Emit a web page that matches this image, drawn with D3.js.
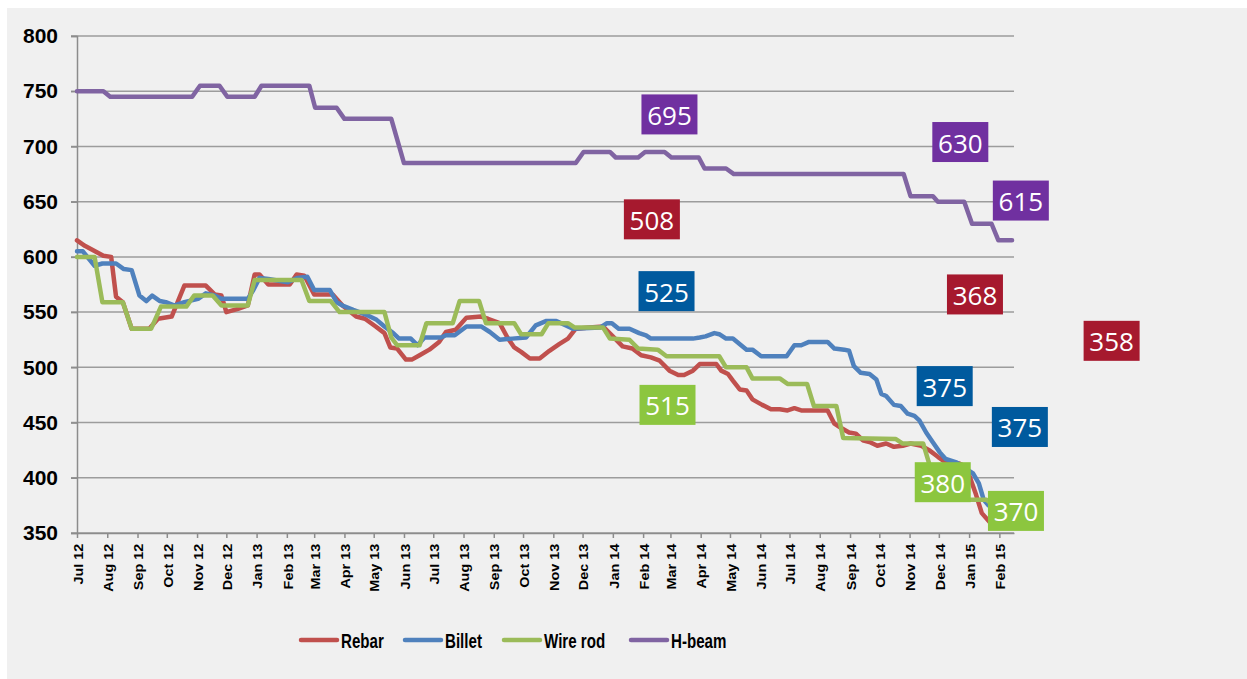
<!DOCTYPE html>
<html>
<head>
<meta charset="utf-8">
<script src="https://cdn.jsdelivr.net/npm/d3@7"></script>
<style>
  body { margin: 0; background: #fff; }
  svg { display: block; }
</style>
</head>
<body>
<svg class="line-chart"></svg>
<script>
// weekly steel prices as [date, price] break points
const rebar = [
  ["2012-07-01",615],["2012-07-09",610],["2012-07-28",601],["2012-08-05",600],["2012-08-10",564],["2012-08-17",559],
  ["2012-08-26",535],["2012-09-13",535],["2012-09-22",544],["2012-10-06",546],["2012-10-19",574],["2012-11-10",574],
  ["2012-11-19",566],["2012-11-26",565],["2012-12-01",550],["2012-12-13",553],["2012-12-23",556],["2012-12-30",584],
  ["2013-01-04",584],["2013-01-13",575],["2013-02-04",575],["2013-02-11",584],["2013-02-19",583],["2013-03-01",566],
  ["2013-03-20",566],["2013-03-30",556],["2013-04-13",546],["2013-04-22",544],["2013-05-03",537],["2013-05-12",531],
  ["2013-05-18",518],["2013-05-25",517],["2013-06-03",507],["2013-06-09",507],["2013-06-17",511],["2013-06-27",516],
  ["2013-07-07",523],["2013-07-14",532],["2013-07-24",534],["2013-08-04",545],["2013-08-19",546],["2013-08-26",544],
  ["2013-09-07",540],["2013-09-15",527],["2013-09-22",518],["2013-09-29",514],["2013-10-08",508],["2013-10-18",508],
  ["2013-10-28",515],["2013-11-07",521],["2013-11-16",526],["2013-11-24",535],["2013-12-08",536],["2013-12-22",537],
  ["2014-01-01",528],["2014-01-11",519],["2014-01-21",517],["2014-01-30",511],["2014-02-09",509],["2014-02-18",506],
  ["2014-02-28",497],["2014-03-09",493],["2014-03-15",493],["2014-03-24",497],["2014-03-31",503],["2014-04-17",503],
  ["2014-04-22",497],["2014-04-29",494],["2014-05-04",488],["2014-05-11",480],["2014-05-18",479],["2014-05-24",471],
  ["2014-06-03",466],["2014-06-12",462],["2014-06-21",462],["2014-06-29",461],["2014-07-06",463],["2014-07-13",461],
  ["2014-08-09",461],["2014-08-16",449],["2014-08-23",445],["2014-08-31",441],["2014-09-07",440],["2014-09-14",434],
  ["2014-09-22",432],["2014-09-29",429],["2014-10-08",431],["2014-10-16",428],["2014-10-25",429],["2014-11-02",431],
  ["2014-11-13",429],["2014-11-21",425],["2014-11-30",419],["2014-12-08",414],["2014-12-22",413],["2014-12-29",410],
  ["2015-01-08",385],["2015-01-14",368],["2015-01-22",360],["2015-02-14",358]
];

const billet = [
  ["2012-07-01",605],["2012-07-07",605],["2012-07-19",592],["2012-07-27",594],["2012-08-10",594],["2012-08-18",589],
  ["2012-08-26",588],["2012-09-03",565],["2012-09-10",560],["2012-09-16",565],["2012-09-24",560],["2012-09-30",559],
  ["2012-10-09",556],["2012-10-19",559],["2012-11-02",562],["2012-11-10",567],["2012-11-19",565],["2012-11-26",562],
  ["2012-12-23",562],["2012-12-28",569],["2013-01-04",581],["2013-01-13",580],["2013-02-02",577],["2013-02-12",581],
  ["2013-02-22",582],["2013-03-01",570],["2013-03-17",570],["2013-03-24",559],["2013-03-30",556],["2013-04-10",552],
  ["2013-04-25",547],["2013-05-04",543],["2013-05-12",537],["2013-05-21",531],["2013-05-27",526],["2013-06-08",526],
  ["2013-06-15",520],["2013-06-22",527],["2013-07-09",527],["2013-07-14",529],["2013-07-23",529],["2013-08-04",537],
  ["2013-08-19",537],["2013-08-28",532],["2013-09-07",525],["2013-09-20",526],["2013-10-04",527],["2013-10-14",538],
  ["2013-10-25",542],["2013-11-04",542],["2013-11-14",538],["2013-11-21",535],["2013-12-19",536],["2013-12-26",540],
  ["2013-12-31",540],["2014-01-07",535],["2014-01-18",535],["2014-01-28",531],["2014-02-04",529],["2014-02-09",526],
  ["2014-03-24",526],["2014-03-31",527],["2014-04-06",528],["2014-04-15",531],["2014-04-20",530],["2014-04-27",526],
  ["2014-05-04",526],["2014-05-18",516],["2014-05-24",516],["2014-06-02",510],["2014-06-28",510],["2014-07-06",520],
  ["2014-07-13",520],["2014-07-21",523],["2014-08-09",523],["2014-08-16",517],["2014-08-26",516],["2014-08-31",515],
  ["2014-09-05",501],["2014-09-12",495],["2014-09-21",494],["2014-09-28",489],["2014-10-03",476],["2014-10-08",474],
  ["2014-10-16",466],["2014-10-23",465],["2014-10-30",458],["2014-11-06",456],["2014-11-11",452],["2014-11-18",441],
  ["2014-11-25",432],["2014-12-02",423],["2014-12-08",417],["2014-12-19",414],["2014-12-29",408],["2015-01-05",404],
  ["2015-01-11",395],["2015-01-16",380],["2015-01-21",375],["2015-02-14",375]
];

const wireRod = [
  ["2012-07-01",600],["2012-07-19",600],["2012-07-27",559],["2012-08-17",559],["2012-08-26",535],["2012-09-15",535],
  ["2012-09-25",555],["2012-10-21",555],["2012-10-29",565],["2012-11-17",565],["2012-11-26",556],["2012-12-23",556],
  ["2012-12-30",579],["2013-02-16",579],["2013-02-24",560],["2013-03-18",560],["2013-03-27",550],["2013-05-12",550],
  ["2013-05-19",527],["2013-05-25",520],["2013-06-17",520],["2013-06-24",540],["2013-07-21",540],["2013-07-28",560],
  ["2013-08-17",560],["2013-08-24",540],["2013-09-22",540],["2013-09-29",530],["2013-10-20",530],["2013-10-27",540],
  ["2013-11-16",540],["2013-11-23",536],["2013-12-22",536],["2013-12-29",526],["2014-01-18",525],["2014-01-27",517],
  ["2014-02-16",516],["2014-02-25",510],["2014-04-20",510],["2014-04-27",500],["2014-05-18",500],["2014-05-24",490],
  ["2014-06-21",490],["2014-06-29",485],["2014-07-19",485],["2014-07-26",465],["2014-08-18",465],["2014-08-25",436],
  ["2014-10-18",435],["2014-10-25",431],["2014-11-15",431],["2014-11-22",410],["2014-12-07",380],["2015-01-19",380],
  ["2015-02-01",370],["2015-02-14",370]
];

const hBeam = [
  ["2012-07-01",750],["2012-07-28",750],["2012-08-04",745],["2012-10-27",745],["2012-11-04",755],["2012-11-24",755],
  ["2012-12-02",745],["2012-12-30",745],["2013-01-06",755],["2013-02-24",755],["2013-03-02",735],["2013-03-24",735],
  ["2013-04-01",725],["2013-05-19",725],["2013-06-01",685],["2013-11-24",685],["2013-12-02",695],["2013-12-29",695],
  ["2014-01-04",690],["2014-01-27",690],["2014-02-03",695],["2014-02-23",695],["2014-03-02",690],["2014-03-30",690],
  ["2014-04-05",680],["2014-04-27",680],["2014-05-05",675],["2014-10-26",675],["2014-11-02",655],["2014-11-25",655],
  ["2014-11-30",650],["2014-12-27",650],["2015-01-04",630],["2015-01-24",630],["2015-01-31",615],["2015-02-14",615]
];

const seriesNames = ["Rebar", "Billet", "Wire rod", "H-beam"];
const xTickLabels = ["Jul 12","Aug 12","Sep 12","Oct 12","Nov 12","Dec 12","Jan 13","Feb 13","Mar 13","Apr 13","May 13","Jun 13",
  "Jul 13","Aug 13","Sep 13","Oct 13","Nov 13","Dec 13","Jan 14","Feb 14","Mar 14","Apr 14","May 14","Jun 14",
  "Jul 14","Aug 14","Sep 14","Oct 14","Nov 14","Dec 14","Jan 15","Feb 15"];
const yTicks = [350, 400, 450, 500, 550, 600, 650, 700, 750, 800];

// boxed value notes, placed in data space
const callouts = [
  ["695", "H-beam", "2014-02-28", 729],
  ["508", "Rebar", "2014-02-10", 634],
  ["525", "Billet", "2014-02-25", 569],
  ["515", "Wire rod", "2014-02-26", 466],
  ["630", "H-beam", "2014-12-23", 704],
  ["615", "H-beam", "2015-02-23", 651],
  ["368", "Rebar", "2015-01-07", 566],
  ["358", "Rebar", "2015-05-27", 524],
  ["375", "Billet", "2014-12-07", 483],
  ["375", "Billet", "2015-02-22", 446],
  ["380", "Wire rod", "2014-12-05", 396],
  ["370", "Wire rod", "2015-02-18", 370]
];

const lineColors = { "Rebar": "#C0504D", "Billet": "#4F81BD", "Wire rod": "#9BBB59", "H-beam": "#8064A2" };
const boxColors = { "Rebar": "#A6192E", "Billet": "#005A9E", "Wire rod": "#8CC63F", "H-beam": "#7030A0" };

const parse = d3.timeParse("%Y-%m-%d");
const toPoints = arr => arr.map(d => ({ date: parse(d[0]), value: d[1] }));
const series = [rebar, billet, wireRod, hBeam].map((arr, i) => ({ name: seriesNames[i], values: toPoints(arr) }));

const svgWidth = 1247, svgHeight = 679;
const margin = { top: 36, left: 77 };
const plotRight = 1014, plotBottom = 533;

const svg = d3.select('svg.line-chart')
  .attr('width', svgWidth)
  .attr('height', svgHeight)
  .style('font-family', '"Liberation Sans", Arial, sans-serif');

svg.append('rect')
  .attr('x', 7).attr('y', 8)
  .attr('width', svgWidth - 7).attr('height', svgHeight - 8)
  .attr('fill', '#F0F0F0');

const x = d3.scaleTime()
  .domain([parse("2012-07-01"), parse("2015-02-16")])
  .range([margin.left, plotRight]);

const y = d3.scaleLinear()
  .domain([350, 800])
  .range([plotBottom, margin.top]);

// gridlines
svg.append('g')
  .selectAll('line')
  .data(yTicks)
  .join('line')
  .attr('x1', margin.left - 6)
  .attr('x2', plotRight)
  .attr('y1', d => y(d))
  .attr('y2', d => y(d))
  .attr('stroke', '#9C9C9C')
  .attr('stroke-width', 1.5);

// y axis
const yAxis = svg.append('g')
  .attr('transform', `translate(${margin.left}, 0)`)
  .call(d3.axisLeft(y).tickValues(yTicks).tickSize(6).tickPadding(13));
yAxis.selectAll('line, path').attr('stroke', '#8C8C8C').attr('stroke-width', 1.5);
yAxis.selectAll('text')
  .attr('fill', '#000')
  .attr('font-size', 21)
  .attr('font-weight', 'bold')
  .attr('font-family', '"Liberation Sans", Arial, sans-serif');

// x axis with rotated month labels
const months = d3.timeMonth.range(parse("2012-07-01"), parse("2015-03-01"));
const xAxis = svg.append('g')
  .attr('transform', `translate(0, ${plotBottom})`)
  .call(d3.axisBottom(x).tickValues(months).tickSize(5).tickSizeOuter(0)
    .tickFormat((d, i) => xTickLabels[i]));
xAxis.selectAll('line, path').attr('stroke', '#8C8C8C').attr('stroke-width', 1.5);
xAxis.selectAll('text')
  .attr('fill', '#000')
  .attr('font-size', 12)
  .attr('font-weight', 'bold')
  .attr('font-family', '"Liberation Sans", Arial, sans-serif')
  .attr('text-anchor', 'end')
  .attr('transform', 'rotate(-90) scale(1.2,1)')
  .attr('x', -9)
  .attr('y', 1)
  .attr('dy', '0.35em');

// series lines
const line = d3.line()
  .x(d => x(d.date))
  .y(d => y(d.value));

svg.append('g')
  .selectAll('path')
  .data(series)
  .join('path')
  .attr('fill', 'none')
  .attr('stroke', d => lineColors[d.name])
  .attr('stroke-width', 4.5)
  .attr('stroke-linejoin', 'round')
  .attr('stroke-linecap', 'round')
  .attr('d', d => line(d.values));

// callout boxes
const boxW = 56, boxH = 40;
const notes = svg.append('g')
  .selectAll('g')
  .data(callouts)
  .join('g')
  .attr('transform', d => `translate(${x(parse(d[2]))}, ${y(d[3])})`);

notes.append('rect')
  .attr('x', -boxW / 2)
  .attr('y', -boxH / 2)
  .attr('width', boxW)
  .attr('height', boxH)
  .attr('fill', d => boxColors[d[1]]);

notes.append('text')
  .attr('text-anchor', 'middle')
  .attr('y', 10.5)
  .attr('fill', '#fff')
  .attr('font-family', '"Open Sans", "Noto Sans", sans-serif')
  .attr('font-size', 26)
  .text(d => d[0]);

// legend
const legendX = [301, 405, 504, 631];
const legend = svg.append('g')
  .selectAll('g')
  .data(seriesNames)
  .join('g')
  .attr('transform', (d, i) => `translate(${legendX[i]}, 640)`);

legend.append('line')
  .attr('x1', 0).attr('x2', 36)
  .attr('stroke', d => lineColors[d])
  .attr('stroke-width', 4.5)
  .attr('stroke-linecap', 'round');

legend.append('text')
  .attr('transform', 'translate(40, 8) scale(0.72,1)')
  .attr('font-size', 21)
  .attr('font-weight', 'bold')
  .attr('fill', '#000')
  .text(d => d);
</script>
</body>
</html>
